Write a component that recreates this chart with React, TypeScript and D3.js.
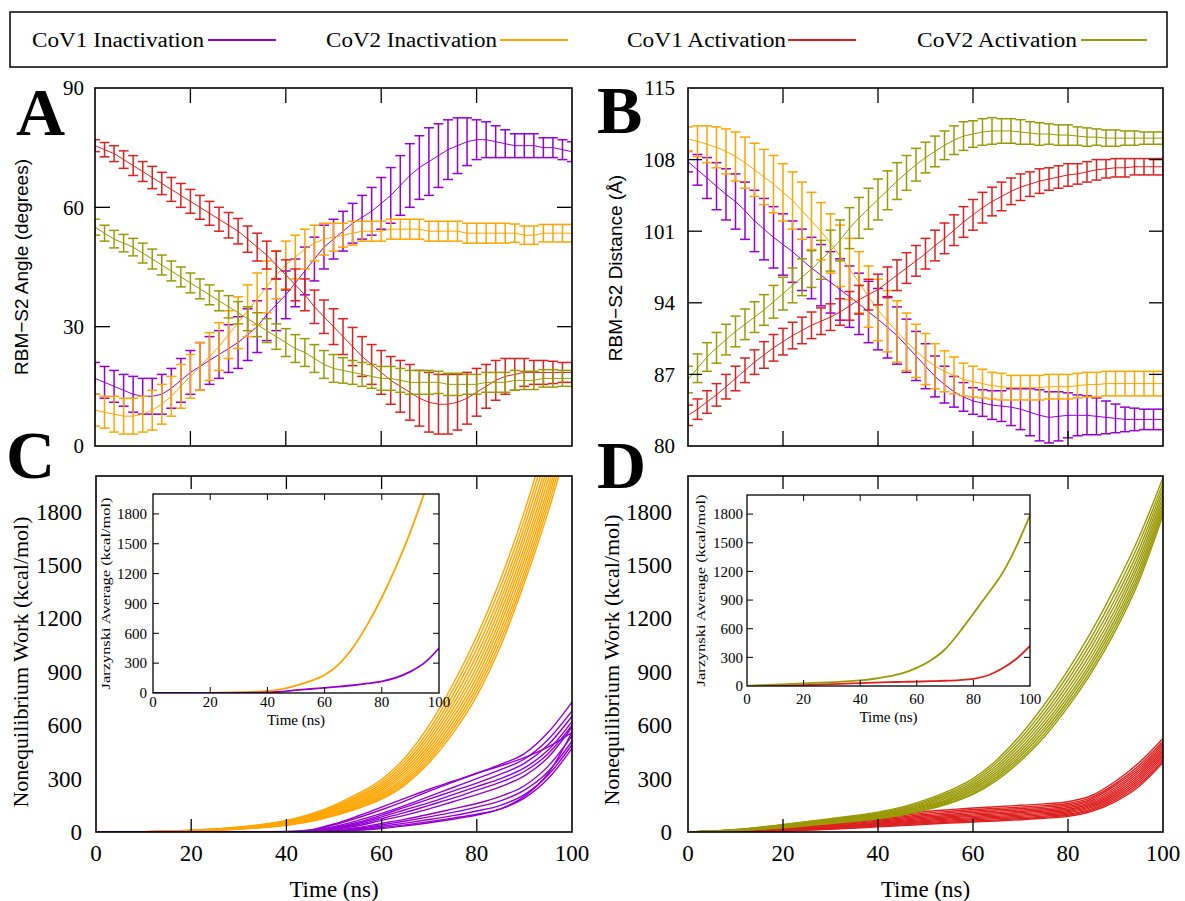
import React from "react";
import * as d3 from "d3";

const SERIF = '"Liberation Serif","Times New Roman",serif';
const SANS = '"Liberation Sans",Arial,sans-serif';

const C_PURPLE = "#9400d3";
const C_ORANGE = "#ffa500";
const C_RED = "#dd2020";
const C_OLIVE = "#9a9a08";

const LEGEND_LABELS = ["CoV1 Inactivation", "CoV2 Inactivation", "CoV1 Activation", "CoV2 Activation"];
const LEGEND_COLORS = [C_PURPLE, C_ORANGE, C_RED, C_OLIVE];

const X_TICKS = [0, 20, 40, 60, 80, 100];
const A_Y_TICKS = [0, 30, 60, 90];
const B_Y_TICKS = [80, 87, 94, 101, 108, 115];
const W_Y_TICKS = [0, 300, 600, 900, 1200, 1500, 1800];

// time points (ns) of the averaged angle / distance curves
const TIME_EB = [0, 2, 4, 6, 8, 10, 12, 14, 16, 18, 20, 22, 24, 26, 28, 30, 32, 34, 36, 38, 40, 42, 44, 46, 48, 50,
  52, 54, 56, 58, 60, 62, 64, 66, 68, 70, 72, 74, 76, 78, 80, 82, 84, 86, 88, 90, 92, 94, 96, 98, 100];

// Panel A: RBM-S2 angle (degrees)
const A_COV1_INACT = [17, 16, 15, 14, 13, 12.5, 12.5, 13, 14.5, 16.5, 18.5, 20, 21.5, 23, 24.5, 26, 28, 30, 33, 35.5, 38, 41, 44, 47, 50, 52,
  54, 56, 57.5, 59, 61, 63, 65.5, 68, 70, 71.5, 73, 74.5, 75.5, 76.5, 77, 77, 76.5, 76, 75.5, 75.5, 75.5, 75, 75, 74.5, 74];
const A_COV1_INACT_ERR = [4, 4, 4, 4, 4.5, 4.5, 4.5, 5, 5, 5.5, 5.5, 6, 6, 6, 6, 6.5, 6.5, 6.5, 6.5, 6.5, 6, 6, 6, 5.5, 5.5, 5,
  5, 5, 5.5, 6, 6.5, 7, 7.5, 8, 8, 8.5, 8, 7.5, 7, 6, 5, 4.5, 4, 3.5, 3, 3, 3, 2.5, 2.5, 2.5, 2.5];
const A_COV2_INACT = [9, 8.5, 8, 7.5, 7.5, 8, 9, 10.5, 12.5, 15, 17.5, 20, 22.5, 25, 28, 31, 34, 37, 40, 43, 45.5, 47.5, 49.5, 51, 52, 52.5,
  53, 53.5, 54, 54, 54, 54.5, 54.5, 54.5, 54.5, 54, 54, 54, 54, 53.5, 53.5, 53.5, 53.5, 53.5, 53.5, 53, 53, 53.5, 53.5, 53.5, 53.5];
const A_COV2_INACT_ERR = [4, 4, 4.5, 4.5, 4.5, 4.5, 5, 5, 5, 5.5, 5.5, 6, 6, 6, 6, 6.5, 6.5, 6.5, 6.5, 6, 6, 5.5, 5, 4.5, 4, 3.5,
  3, 3, 2.5, 2.5, 2.5, 2.5, 2.5, 2.5, 2.5, 2.5, 2.5, 2.5, 2.5, 2.5, 2.5, 2.5, 2.5, 2.5, 2.3, 2.3, 2.3, 2.2, 2.2, 2.2, 2.2];
const A_COV1_ACT = [75.5, 74.5, 73.5, 72, 70.5, 69, 67.5, 66, 64.5, 63, 61.5, 60, 58.5, 57, 55.5, 54, 52, 50, 48, 45.5, 43, 40.5, 38, 35, 32.5, 30,
  27.5, 25, 22.5, 20.5, 18.5, 16.5, 15, 13.5, 12, 11, 10.5, 10.5, 11, 12, 13.5, 15, 16.5, 17.5, 18, 18.5, 18.5, 18.5, 18.5, 18.5, 18.5];
const A_COV1_ACT_ERR = [1.5, 1.8, 2, 2.2, 2.5, 2.5, 2.8, 2.8, 3, 3, 3, 3, 3, 3, 3.2, 3.2, 3.3, 3.5, 3.5, 3.5, 3.8, 4, 4, 4.2, 4.2, 4.5,
  4.5, 4.8, 5, 5, 5.5, 6, 6.5, 7, 7, 7.5, 7.5, 7.5, 7, 6.5, 6, 5.5, 5, 4.5, 4, 3.5, 3, 3, 2.8, 2.5, 2.5];
const A_COV2_ACT = [55, 53.5, 52, 51, 50, 48.5, 47, 45.5, 44, 42.5, 41, 39.5, 38, 36.5, 35, 33.5, 32, 30.5, 29, 27.5, 26, 24.5, 23.5, 22, 20.5, 19.5,
  19, 18.5, 18, 17.5, 17, 17, 16.5, 16, 16, 16, 16, 15.5, 15.5, 15.5, 15.5, 16, 16, 16, 16.5, 16.5, 16.5, 17, 17, 17, 17];
const A_COV2_ACT_ERR = [2, 2, 2.2, 2.2, 2.2, 2.5, 2.5, 2.5, 2.5, 2.5, 2.5, 2.5, 2.5, 2.5, 2.8, 2.8, 3, 3, 3, 3.2, 3.5, 3.5, 3.5, 3.5, 3.5, 3.5,
  3.2, 3, 3, 3, 3, 3, 3, 3, 3, 3, 2.8, 2.8, 2.8, 2.5, 2.5, 2.5, 2.5, 2.5, 2.5, 2.3, 2.3, 2.2, 2.2, 2, 2];

// Panel B: RBM-S2 distance (Å)
const B_COV1_INACT = [107.8, 107, 106.2, 105.4, 104.6, 103.9, 103, 102, 101.2, 100.4, 99.7, 99, 98.2, 97.4, 96.7, 96, 95.3, 94.6, 93.9, 93.1, 92.4, 91.6, 90.8, 89.8, 88.8, 87.8,
  86.8, 86, 85.3, 84.8, 84.4, 84.2, 84, 83.9, 83.8, 83.6, 83.3, 83, 82.8, 82.9, 83, 83, 83, 82.9, 82.8, 82.7, 82.6, 82.6, 82.6, 82.6, 82.6];
const B_COV1_INACT_ERR = [1, 1.5, 2, 2.3, 2.5, 2.7, 2.8, 3, 3, 3, 3, 3, 3, 3, 3, 3, 3, 3, 3, 3, 3, 3, 2.8, 2.6, 2.4, 2.2,
  2, 1.8, 1.5, 1.4, 1.3, 1.3, 1.4, 1.5, 1.8, 2, 2.3, 2.5, 2.5, 2.4, 2.2, 2, 1.9, 1.8, 1.6, 1.4, 1.2, 1.1, 1, 1, 1];
const B_COV2_INACT = [110, 109.8, 109.5, 109.2, 108.8, 108.3, 107.7, 107, 106.3, 105.6, 104.8, 104, 103, 102, 101, 99.8, 98.6, 97.3, 96, 94.6, 93.3, 92.2, 91.2, 90.2, 89.3, 88.5,
  87.8, 87.3, 86.9, 86.5, 86.3, 86.1, 85.9, 85.8, 85.7, 85.7, 85.7, 85.7, 85.8, 85.8, 85.8, 85.9, 86, 86, 86.1, 86.1, 86.1, 86.1, 86.1, 86.1, 86.1];
const B_COV2_INACT_ERR = [1.2, 1.5, 1.8, 2, 2.2, 2.4, 2.5, 2.6, 2.7, 2.8, 2.8, 2.8, 2.8, 2.8, 2.8, 2.9, 3, 3, 3, 3, 3, 3, 3, 2.8, 2.6, 2.5,
  2.2, 2, 1.8, 1.6, 1.5, 1.4, 1.3, 1.3, 1.2, 1.2, 1.2, 1.2, 1.2, 1.2, 1.2, 1.2, 1.2, 1.2, 1.2, 1.2, 1.2, 1.2, 1.2, 1.2, 1.2];
const B_COV1_ACT = [83, 83.6, 84.3, 85, 85.8, 86.6, 87.4, 88.2, 88.9, 89.6, 90.2, 90.8, 91.3, 91.8, 92.2, 92.6, 93.1, 93.7, 94.3, 94.8, 95.3, 96, 96.7, 97.4, 98.1, 98.8,
  99.6, 100.3, 101.1, 101.9, 102.6, 103.3, 103.9, 104.4, 104.9, 105.3, 105.6, 105.9, 106.1, 106.3, 106.5, 106.6, 106.8, 107, 107.1, 107.2, 107.2, 107.3, 107.3, 107.3, 107.3];
const B_COV1_ACT_ERR = [1, 1, 1.1, 1.1, 1.2, 1.2, 1.2, 1.2, 1.3, 1.3, 1.3, 1.3, 1.3, 1.3, 1.3, 1.3, 1.3, 1.4, 1.4, 1.5, 1.5, 1.5, 1.5, 1.5, 1.5, 1.5,
  1.5, 1.5, 1.5, 1.5, 1.5, 1.5, 1.4, 1.4, 1.3, 1.3, 1.2, 1.2, 1.1, 1.1, 1.1, 1, 1, 1, 0.9, 0.9, 0.9, 0.8, 0.8, 0.8, 0.8];
const B_COV2_ACT = [86.5, 87.6, 88.7, 89.6, 90.4, 91.2, 91.9, 92.6, 93.3, 94.1, 94.9, 95.7, 96.5, 97.3, 98.2, 99.1, 100.1, 101.3, 102.3, 103.2, 104.1, 105, 105.9, 106.7, 107.5, 108.2,
  108.8, 109.4, 109.9, 110.3, 110.5, 110.7, 110.8, 110.8, 110.8, 110.7, 110.6, 110.5, 110.5, 110.4, 110.4, 110.3, 110.2, 110.2, 110.1, 110.1, 110.1, 110.1, 110.1, 110.1, 110.1];
const B_COV2_ACT_ERR = [1.3, 1.4, 1.4, 1.5, 1.5, 1.5, 1.5, 1.5, 1.5, 1.6, 1.6, 1.7, 1.8, 1.8, 1.9, 2, 2, 2, 2, 2, 2, 1.9, 1.8, 1.7, 1.6, 1.5,
  1.5, 1.4, 1.4, 1.4, 1.3, 1.3, 1.3, 1.2, 1.2, 1.2, 1.1, 1.1, 1, 1, 1, 0.9, 0.9, 0.8, 0.8, 0.8, 0.7, 0.7, 0.6, 0.6, 0.6];

// time points (ns) of the nonequilibrium work trajectories
const TIME_W = [0, 10, 20, 30, 40, 45, 50, 55, 60, 65, 70, 75, 80, 85, 90, 95, 100];

// Panel C: CoV1 inactivation work (kcal/mol), one row per trajectory
const W_COV1_INACT = [
  [0, 0, 0, 0, 2, 10, 40, 80, 125, 175, 230, 280, 330, 380, 440, 560, 730],
  [0, 0, 0, 0, 3, 12, 45, 90, 140, 190, 240, 285, 330, 372, 418, 478, 560],
  [0, 0, 0, 0, 1, 6, 30, 65, 105, 150, 200, 250, 300, 350, 410, 520, 680],
  [0, 0, 0, 0, 1, 5, 25, 55, 95, 140, 185, 230, 275, 325, 385, 490, 650],
  [0, 0, 0, 0, 0, 4, 20, 48, 85, 125, 165, 210, 255, 300, 360, 460, 620],
  [0, 0, 0, 0, 0, 3, 18, 42, 75, 110, 150, 190, 235, 280, 340, 440, 600],
  [0, 0, 0, 0, 0, 2, 15, 35, 65, 95, 130, 170, 210, 255, 315, 420, 590],
  [0, 0, 0, 0, 0, 0, 4, 10, 20, 35, 52, 72, 95, 130, 200, 330, 560],
  [0, 0, 0, 0, 0, 1, 10, 25, 48, 72, 100, 130, 160, 200, 260, 370, 540],
  [0, 0, 0, 0, 0, 1, 8, 20, 40, 62, 85, 110, 140, 175, 235, 340, 510],
  [0, 0, 0, 0, 0, 0, 6, 16, 32, 50, 70, 92, 118, 150, 210, 320, 490],
  [0, 0, 0, 0, 0, 0, 5, 12, 25, 40, 58, 78, 100, 130, 190, 300, 470],
];
// Panel C: CoV2 inactivation work
const W_COV2_INACT = [
  [0, 2, 10, 28, 65, 100, 150, 215, 295, 420, 600, 830, 1100, 1420, 1800, 2250, 2750],
  [0, 2, 10, 26, 62, 95, 143, 205, 282, 402, 575, 800, 1065, 1380, 1755, 2200, 2700],
  [0, 2, 9, 25, 59, 90, 137, 196, 270, 385, 552, 770, 1030, 1340, 1715, 2150, 2650],
  [0, 2, 9, 24, 56, 86, 131, 188, 259, 370, 530, 742, 995, 1305, 1675, 2100, 2600],
  [0, 2, 8, 23, 53, 82, 125, 180, 248, 355, 510, 715, 962, 1270, 1640, 2060, 2550],
  [0, 1, 8, 22, 50, 78, 120, 172, 238, 341, 490, 690, 930, 1235, 1600, 2020, 2500],
  [0, 1, 7, 21, 48, 74, 114, 165, 228, 327, 472, 665, 900, 1200, 1565, 1980, 2460],
  [0, 1, 7, 20, 45, 70, 109, 158, 218, 313, 454, 641, 870, 1168, 1530, 1940, 2420],
  [0, 1, 6, 19, 43, 67, 104, 151, 209, 300, 437, 618, 842, 1135, 1495, 1905, 2380],
  [0, 1, 6, 18, 41, 64, 99, 144, 200, 288, 420, 596, 815, 1105, 1460, 1870, 2340],
  [0, 1, 5, 17, 39, 61, 95, 138, 192, 277, 405, 576, 790, 1075, 1430, 1835, 2300],
  [0, 1, 5, 16, 37, 58, 91, 132, 184, 266, 390, 556, 765, 1045, 1400, 1800, 2260],
];
// Panel D: CoV1 activation work
const W_COV1_ACT = [
  [0, 10, 28, 55, 85, 100, 115, 125, 135, 142, 150, 158, 170, 205, 285, 390, 525],
  [0, 9, 25, 50, 78, 92, 106, 116, 126, 133, 140, 148, 160, 195, 272, 375, 510],
  [0, 8, 22, 45, 72, 85, 98, 108, 118, 125, 132, 140, 152, 186, 262, 362, 498],
  [0, 7, 20, 41, 66, 79, 91, 100, 110, 117, 124, 132, 144, 177, 250, 350, 485],
  [0, 6, 18, 37, 60, 72, 84, 93, 102, 109, 116, 124, 136, 168, 240, 338, 472],
  [0, 6, 16, 33, 55, 66, 77, 86, 95, 102, 109, 117, 128, 160, 230, 326, 460],
  [0, 5, 14, 30, 50, 60, 71, 80, 88, 95, 102, 110, 121, 152, 220, 315, 448],
  [0, 4, 12, 27, 45, 55, 65, 73, 81, 88, 95, 103, 114, 145, 210, 303, 436],
  [0, 4, 10, 24, 41, 50, 59, 67, 75, 82, 88, 96, 107, 138, 200, 292, 424],
  [0, 3, 8, 21, 37, 45, 53, 61, 69, 75, 81, 89, 100, 130, 190, 280, 412],
  [0, 3, 7, 18, 33, 40, 48, 55, 62, 68, 75, 83, 94, 123, 180, 268, 400],
  [0, 2, 6, 15, 29, 36, 43, 50, 56, 62, 69, 77, 88, 116, 171, 257, 390],
];
// Panel D: CoV2 activation work
const W_COV2_ACT = [
  [0, 14, 42, 75, 112, 140, 180, 232, 300, 405, 545, 715, 910, 1130, 1380, 1660, 1990],
  [0, 13, 40, 72, 107, 134, 172, 222, 288, 390, 525, 690, 882, 1098, 1345, 1625, 1960],
  [0, 12, 38, 69, 102, 128, 165, 213, 277, 375, 506, 667, 855, 1068, 1312, 1592, 1935],
  [0, 12, 36, 66, 98, 123, 158, 204, 266, 361, 488, 645, 829, 1040, 1282, 1562, 1910],
  [0, 11, 34, 63, 94, 118, 152, 196, 256, 348, 471, 624, 805, 1012, 1253, 1534, 1885],
  [0, 10, 32, 60, 90, 113, 146, 188, 246, 335, 455, 604, 782, 986, 1226, 1508, 1862],
  [0, 10, 30, 57, 86, 108, 140, 181, 237, 323, 440, 585, 760, 962, 1200, 1482, 1840],
  [0, 9, 28, 54, 82, 104, 134, 174, 228, 312, 426, 567, 740, 940, 1176, 1458, 1820],
  [0, 8, 26, 51, 78, 99, 128, 167, 219, 301, 412, 550, 721, 918, 1153, 1435, 1800],
  [0, 8, 24, 48, 74, 95, 123, 160, 211, 290, 399, 534, 703, 898, 1131, 1413, 1780],
];

// Insets: Jarzynski averages (kcal/mol)
const J_COV1_INACT = [0, 0, 0, 1, 5, 14, 28, 40, 52, 64, 78, 96, 118, 155, 215, 305, 450];
const J_COV2_INACT = [0, 0, 2, 8, 20, 40, 75, 120, 180, 290, 460, 690, 960, 1270, 1620, 2020, 2450];
const J_COV1_ACT = [0, 5, 10, 20, 30, 35, 40, 43, 46, 50, 55, 62, 75, 110, 180, 280, 420];
const J_COV2_ACT = [0, 15, 28, 40, 58, 76, 100, 135, 190, 270, 385, 560, 760, 960, 1170, 1450, 1790];

type Lin = d3.ScaleLinear<number, number>;

function ErrSeries({ ys, es, x, y, color }: { ys: number[]; es: number[]; x: Lin; y: Lin; color: string }) {
  const line = d3.line<number>().x((_, i) => x(TIME_EB[i])).y((d) => y(d));
  const cap = 5;
  return (
    <g stroke={color} fill="none">
      <path d={line(ys) || ""} strokeWidth={1} />
      {ys.map((m, i) => {
        const px = x(TIME_EB[i]);
        const yt = y(m + es[i]);
        const yb = y(m - es[i]);
        return (
          <g key={i} strokeWidth={1.5}>
            <line x1={px} x2={px} y1={yt} y2={yb} />
            <line x1={px - cap} x2={px + cap} y1={yt} y2={yt} />
            <line x1={px - cap} x2={px + cap} y1={yb} y2={yb} />
          </g>
        );
      })}
    </g>
  );
}

function WorkLines({ rows, x, y, color, width = 1.4 }: { rows: number[][]; x: Lin; y: Lin; color: string; width?: number }) {
  const line = d3.line<number>().x((_, i) => x(TIME_W[i])).y((d) => y(d)).curve(d3.curveMonotoneX);
  return (
    <g stroke={color} fill="none" strokeWidth={width}>
      {rows.map((r, i) => (
        <path key={i} d={line(r) || ""} />
      ))}
    </g>
  );
}

function XTicksInner({ x, yTop, yBot, len }: { x: Lin; yTop: number; yBot: number; len: number }) {
  return (
    <g stroke="#000" strokeWidth={1.3}>
      {X_TICKS.slice(1, -1).map((t) => (
        <g key={t}>
          <line x1={x(t)} x2={x(t)} y1={yBot} y2={yBot - len} />
          <line x1={x(t)} x2={x(t)} y1={yTop} y2={yTop + len} />
        </g>
      ))}
    </g>
  );
}

function YTicksInner({ y, ticks, xL, xR, len }: { y: Lin; ticks: number[]; xL: number; xR: number; len: number }) {
  return (
    <g stroke="#000" strokeWidth={1.3}>
      {ticks.slice(1, -1).map((t) => (
        <g key={t}>
          <line x1={xL} x2={xL + len} y1={y(t)} y2={y(t)} />
          <line x1={xR} x2={xR - len} y1={y(t)} y2={y(t)} />
        </g>
      ))}
    </g>
  );
}

function Inset({ x0, x1, y0, y1, series, colors, titleX, labelRight, labelY, timeY, id }:
  { x0: number; x1: number; y0: number; y1: number; series: number[][]; colors: string[]; titleX: number; labelRight: number; labelY: number; timeY: number; id: string }) {
  const x = d3.scaleLinear().domain([0, 100]).range([x0, x1]);
  const y = d3.scaleLinear().domain([0, 2000]).range([y1, y0]);
  const line = d3.line<number>().x((_, i) => x(TIME_W[i])).y((d) => y(d)).curve(d3.curveMonotoneX);
  return (
    <g>
      <clipPath id={id}>
        <rect x={x0} y={y0} width={x1 - x0} height={y1 - y0} />
      </clipPath>
      <rect x={x0} y={y0} width={x1 - x0} height={y1 - y0} fill="#fff" />
      <g clipPath={`url(#${id})`}>
        {series.map((s, i) => (
          <path key={i} d={line(s) || ""} fill="none" stroke={colors[i]} strokeWidth={1.8} />
        ))}
      </g>
      <g stroke="#000" strokeWidth={1}>
        {X_TICKS.slice(1, -1).map((t) => (
          <g key={t}>
            <line x1={x(t)} x2={x(t)} y1={y1} y2={y1 - 6} />
            <line x1={x(t)} x2={x(t)} y1={y0} y2={y0 + 6} />
          </g>
        ))}
        {W_Y_TICKS.slice(1).map((t) => (
          <g key={t}>
            <line x1={x0} x2={x0 + 6} y1={y(t)} y2={y(t)} />
            <line x1={x1} x2={x1 - 6} y1={y(t)} y2={y(t)} />
          </g>
        ))}
      </g>
      <rect x={x0} y={y0} width={x1 - x0} height={y1 - y0} fill="none" stroke="#000" strokeWidth={1.3} />
      <g fontFamily={SERIF} fontSize={15} fill="#000">
        {W_Y_TICKS.map((t) => (
          <text key={t} x={labelRight} y={y(t)} dy="0.35em" textAnchor="end">{t}</text>
        ))}
        {X_TICKS.map((t) => (
          <text key={t} x={x(t)} y={labelY} dy="0.35em" textAnchor="middle">{t}</text>
        ))}
        <text x={(x0 + x1) / 2} y={timeY} dy="0.35em" textAnchor="middle">Time (ns)</text>
        <text transform={`translate(${titleX},${(y0 + y1) / 2}) rotate(-90)`} textAnchor="middle" dy="0.35em"
          fontSize={12} textLength={192} lengthAdjust="spacingAndGlyphs">Jarzynski Average (kcal/mol)</text>
      </g>
    </g>
  );
}

export default function App() {
  // panel geometry
  const A = { x0: 95, x1: 572, y0: 88, y1: 446 };
  const B = { x0: 688, x1: 1163, y0: 88, y1: 446 };
  const C = { x0: 96, x1: 572, y0: 476, y1: 832 };
  const D = { x0: 688, x1: 1163, y0: 476, y1: 832 };

  const xA = d3.scaleLinear().domain([0, 100]).range([A.x0, A.x1]);
  const yA = d3.scaleLinear().domain([0, 90]).range([A.y1, A.y0]);
  const xB = d3.scaleLinear().domain([0, 100]).range([B.x0, B.x1]);
  const yB = d3.scaleLinear().domain([80, 115]).range([B.y1, B.y0]);
  const xC = d3.scaleLinear().domain([0, 100]).range([C.x0, C.x1]);
  const yC = d3.scaleLinear().domain([0, 2000]).range([C.y1, C.y0]);
  const xD = d3.scaleLinear().domain([0, 100]).range([D.x0, D.x1]);
  const yD = d3.scaleLinear().domain([0, 2000]).range([D.y1, D.y0]);

  const legendX = [32, 326, 627, 917];
  const legendW = [172, 171, 159, 160];
  const legendLine = [[208, 276], [500, 568], [788, 856], [1081, 1147]];

  const frame = (p: { x0: number; x1: number; y0: number; y1: number }) => (
    <rect x={p.x0} y={p.y0} width={p.x1 - p.x0} height={p.y1 - p.y0} fill="none" stroke="#000" strokeWidth={1.6} />
  );

  return (
    <div style={{ position: "absolute", left: 0, top: 0 }}>
      <svg width={1185} height={901} style={{ display: "block", background: "#fff" }}>
        <defs>
          {[["clipA", A], ["clipB", B], ["clipC", C], ["clipD", D]].map(([id, p]: any) => (
            <clipPath id={id} key={id}>
              <rect x={p.x0} y={p.y0} width={p.x1 - p.x0} height={p.y1 - p.y0} />
            </clipPath>
          ))}
        </defs>

        {/* Legend */}
        <rect x={10} y={12} width={1157} height={55} fill="none" stroke="#000" strokeWidth={1.5} />
        {LEGEND_LABELS.map((l, i) => (
          <g key={l}>
            <text x={legendX[i]} y={47} fontFamily={SERIF} fontSize={20} textLength={legendW[i]} lengthAdjust="spacingAndGlyphs">{l}</text>
            <line x1={legendLine[i][0]} x2={legendLine[i][1]} y1={40} y2={40} stroke={LEGEND_COLORS[i]} strokeWidth={2} />
          </g>
        ))}

        {/* Panel A */}
        <g clipPath="url(#clipA)">
          <ErrSeries ys={A_COV1_INACT} es={A_COV1_INACT_ERR} x={xA} y={yA} color={C_PURPLE} />
          <ErrSeries ys={A_COV2_INACT} es={A_COV2_INACT_ERR} x={xA} y={yA} color={C_ORANGE} />
          <ErrSeries ys={A_COV1_ACT} es={A_COV1_ACT_ERR} x={xA} y={yA} color={C_RED} />
          <ErrSeries ys={A_COV2_ACT} es={A_COV2_ACT_ERR} x={xA} y={yA} color={C_OLIVE} />
        </g>
        <XTicksInner x={xA} yTop={A.y0} yBot={A.y1} len={15} />
        <YTicksInner y={yA} ticks={A_Y_TICKS} xL={A.x0} xR={A.x1} len={15} />
        {frame(A)}
        <g fontFamily={SERIF} fontSize={21}>
          {A_Y_TICKS.map((t) => (
            <text key={t} x={84} y={yA(t)} dy="0.35em" textAnchor="end">{t}</text>
          ))}
        </g>
        <text transform="translate(21,267) rotate(-90)" textAnchor="middle" dy="0.35em" fontFamily={SANS} fontSize={19}>RBM−S2 Angle (degrees)</text>
        <text x={16} y={135} fontFamily={SERIF} fontWeight="bold" fontSize={68}>A</text>

        {/* Panel B */}
        <g clipPath="url(#clipB)">
          <ErrSeries ys={B_COV1_INACT} es={B_COV1_INACT_ERR} x={xB} y={yB} color={C_PURPLE} />
          <ErrSeries ys={B_COV2_INACT} es={B_COV2_INACT_ERR} x={xB} y={yB} color={C_ORANGE} />
          <ErrSeries ys={B_COV1_ACT} es={B_COV1_ACT_ERR} x={xB} y={yB} color={C_RED} />
          <ErrSeries ys={B_COV2_ACT} es={B_COV2_ACT_ERR} x={xB} y={yB} color={C_OLIVE} />
        </g>
        <XTicksInner x={xB} yTop={B.y0} yBot={B.y1} len={15} />
        <YTicksInner y={yB} ticks={B_Y_TICKS} xL={B.x0} xR={B.x1} len={14} />
        {frame(B)}
        <g fontFamily={SERIF} fontSize={21}>
          {B_Y_TICKS.map((t) => (
            <text key={t} x={675} y={yB(t)} dy="0.35em" textAnchor="end">{t}</text>
          ))}
        </g>
        <text transform="translate(615,268) rotate(-90)" textAnchor="middle" dy="0.35em" fontFamily={SANS} fontSize={19}>RBM−S2 Distance (Å)</text>
        <text x={597} y={133} fontFamily={SERIF} fontWeight="bold" fontSize={68}>B</text>

        {/* Panel C */}
        <g clipPath="url(#clipC)">
          <WorkLines rows={W_COV2_INACT} x={xC} y={yC} color={C_ORANGE} />
          <WorkLines rows={W_COV1_INACT} x={xC} y={yC} color={C_PURPLE} />
        </g>
        <XTicksInner x={xC} yTop={C.y0} yBot={C.y1} len={13} />
        {frame(C)}
        <g fontFamily={SERIF} fontSize={23}>
          {W_Y_TICKS.map((t) => (
            <text key={t} x={82} y={yC(t)} dy="0.35em" textAnchor="end">{t}</text>
          ))}
          {X_TICKS.map((t) => (
            <text key={t} x={xC(t)} y={853} dy="0.35em" textAnchor="middle">{t}</text>
          ))}
          <text x={(C.x0 + C.x1) / 2} y={889} dy="0.35em" textAnchor="middle">Time (ns)</text>
        </g>
        <text transform="translate(20,662) rotate(-90)" textAnchor="middle" dy="0.35em" fontFamily={SERIF} fontSize={22}>Nonequilibrium Work (kcal/mol)</text>
        <text x={6} y={478} fontFamily={SERIF} fontWeight="bold" fontSize={68}>C</text>
        <Inset id="insC" x0={153} x1={439} y0={494} y1={693} series={[J_COV2_INACT, J_COV1_INACT]} colors={[C_ORANGE, C_PURPLE]}
          titleX={106} labelRight={147} labelY={702} timeY={720} />

        {/* Panel D */}
        <g clipPath="url(#clipD)">
          <WorkLines rows={W_COV1_ACT} x={xD} y={yD} color={C_RED} />
          <WorkLines rows={W_COV2_ACT} x={xD} y={yD} color={C_OLIVE} />
        </g>
        <XTicksInner x={xD} yTop={D.y0} yBot={D.y1} len={13} />
        {frame(D)}
        <g fontFamily={SERIF} fontSize={23}>
          {W_Y_TICKS.map((t) => (
            <text key={t} x={672} y={yD(t)} dy="0.35em" textAnchor="end">{t}</text>
          ))}
          {X_TICKS.map((t) => (
            <text key={t} x={xD(t)} y={853} dy="0.35em" textAnchor="middle">{t}</text>
          ))}
          <text x={(D.x0 + D.x1) / 2} y={889} dy="0.35em" textAnchor="middle">Time (ns)</text>
        </g>
        <text transform="translate(611,660) rotate(-90)" textAnchor="middle" dy="0.35em" fontFamily={SERIF} fontSize={22}>Nonequilibrium Work (kcal/mol)</text>
        <text x={597} y={488} fontFamily={SERIF} fontWeight="bold" fontSize={68}>D</text>
        <Inset id="insD" x0={747} x1={1030} y0={495} y1={686} series={[J_COV1_ACT, J_COV2_ACT]} colors={[C_RED, C_OLIVE]}
          titleX={701} labelRight={743} labelY={699} timeY={717} />
      </svg>
    </div>
  );
}
